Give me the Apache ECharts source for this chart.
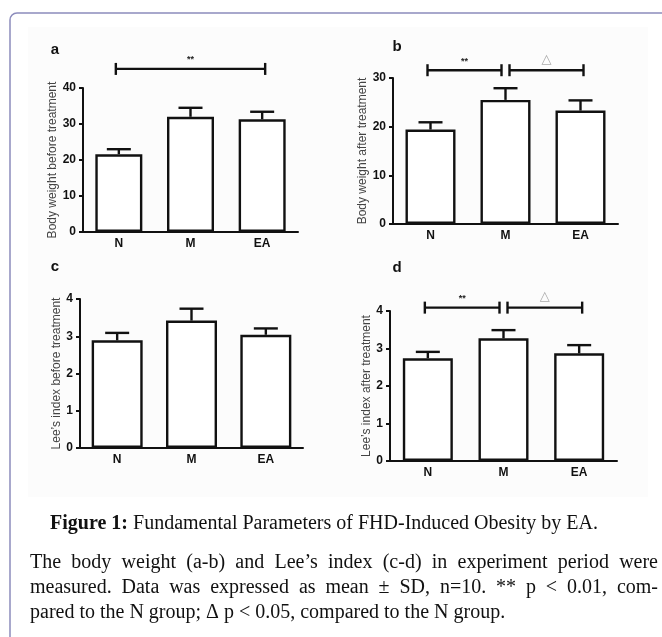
<!DOCTYPE html>
<html>
<head>
<meta charset="utf-8">
<script src="https://cdn.jsdelivr.net/npm/echarts@6/dist/echarts.min.js"></script>
<style>
html, body { margin: 0; background: #fff; }
#chart { width: 662px; height: 637px; }
</style>
</head>
<body>
<div id="chart"></div>
<script>
// groups and values (mean, SD)
const groups = ['N', 'M', 'EA'];
const weightBefore = [21.6, 32.0, 31.3];
const weightBeforeSd = [1.4, 2.5, 2.1];
const weightAfter = [19.4, 25.5, 23.3];
const weightAfterSd = [1.5, 2.4, 2.1];
const leeBefore = [2.89, 3.42, 3.04];
const leeBeforeSd = [0.20, 0.32, 0.17];
const leeAfter = [2.74, 3.27, 2.87];
const leeAfterSd = [0.17, 0.22, 0.22];

// y axis ticks: [max, interval]
const weightBeforeTicks = [40, 10];
const weightAfterTicks = [30, 10];
const leeTicks = [4, 1];

// significance brackets: [from group, to group, level], labels apart
const sigA = [[0, 2, 45.3]];
const sigALabels = ['**'];
const sigB = [[0, 1, 31.6], [1, 2, 31.6]];
const sigBLabels = ['**', '△'];
const sigD = [[0, 1, 4.09], [1, 2, 4.09]];
const sigDLabels = ['**', '△'];

const paraLines = [
    'The body weight (a-b) and Lee\u2019s index (c-d) in experiment period were',
    'measured. Data was expressed as mean \u00b1 SD, n=10. ** p < 0.01, com-',
    'pared to the N group; \u0394 p < 0.05, compared to the N group.'
];

var myChart = echarts.init(document.getElementById('chart'));

const ink = '#111';
const panels = [
    { grid: { left: 83, top: 88, width: 215, height: 144 }, name: 'Body weight before treatment', gap: 17,
      means: weightBefore, sds: weightBeforeSd, ticks: weightBeforeTicks, sig: sigA, sigLabels: sigALabels, barW: 47 },
    { grid: { left: 393, top: 78, width: 225, height: 146 }, name: 'Body weight after treatment', gap: 13,
      means: weightAfter, sds: weightAfterSd, ticks: weightAfterTicks, sig: sigB, sigLabels: sigBLabels, barW: 50 },
    { grid: { left: 80, top: 299, width: 223, height: 149 }, name: 'Lee\u2019s index before treatment', gap: 15,
      means: leeBefore, sds: leeBeforeSd, ticks: leeTicks, sig: [], sigLabels: [], barW: 51 },
    { grid: { left: 390, top: 311, width: 227, height: 150 }, name: 'Lee\u2019s index after treatment', gap: 11,
      means: leeAfter, sds: leeAfterSd, ticks: leeTicks, sig: sigD, sigLabels: sigDLabels, barW: 50 }
];

var grids = [], xAxes = [], yAxes = [], series = [];
panels.forEach(function (p, i) {
    grids.push(p.grid);
    xAxes.push({
        type: 'category', gridIndex: i, data: groups,
        axisLine: { lineStyle: { color: ink, width: 2 } },
        axisTick: { show: false },
        axisLabel: { color: ink, fontWeight: 'bold', fontSize: 12, fontFamily: 'Liberation Sans', margin: 6 }
    });
    yAxes.push({
        type: 'value', gridIndex: i, min: 0, max: p.ticks[0], interval: p.ticks[1],
        name: p.name, nameLocation: 'middle', nameGap: p.gap,
        nameTextStyle: { color: '#444', fontSize: 12, fontFamily: 'Liberation Sans' },
        axisLine: { show: true, lineStyle: { color: ink, width: 2 } },
        axisTick: { show: true, length: 4, lineStyle: { color: ink, width: 2 } },
        splitLine: { show: false },
        axisLabel: { color: ink, fontWeight: 'bold', fontSize: 12, fontFamily: 'Liberation Sans', margin: 7 }
    });
    // bars
    series.push({
        type: 'bar', xAxisIndex: i, yAxisIndex: i, data: p.means, barWidth: p.barW, silent: true,
        itemStyle: { color: '#fff', borderColor: ink, borderWidth: 2.4 }, z: 2
    });
    // error bars (upper only)
    series.push({
        type: 'custom', xAxisIndex: i, yAxisIndex: i, silent: true, z: 3,
        data: p.means.map(function (m, k) { return [k, m, p.sds[k]]; }),
        encode: { x: 0, y: 1 },
        renderItem: function (params, api) {
            var base = api.coord([api.value(0), api.value(1)]);
            var top = api.coord([api.value(0), api.value(1) + api.value(2)]);
            var st = { stroke: ink, lineWidth: 2.4 };
            return { type: 'group', children: [
                { type: 'line', shape: { x1: base[0], y1: base[1], x2: top[0], y2: top[1] }, style: st },
                { type: 'line', shape: { x1: top[0] - 12, y1: top[1], x2: top[0] + 12, y2: top[1] }, style: st }
            ] };
        }
    });
    // significance brackets
    if (p.sig.length) {
        series.push({
            type: 'custom', xAxisIndex: i, yAxisIndex: i, silent: true, z: 3, clip: false,
            data: p.sig,
            encode: { x: 0, y: 2 },
            renderItem: function (params, api) {
                var a = api.coord([api.value(0), api.value(2)]);
                var b = api.coord([api.value(1), api.value(2)]);
                var x1 = a[0] + (api.value(0) > 0 ? 4 : -3);
                var x2 = b[0] + (api.value(1) < groups.length - 1 ? -4 : 3);
                var y = a[1];
                var st = { stroke: ink, lineWidth: 2.4 };
                var lab = p.sigLabels[params.dataIndex];
                var star = lab === '**';
                return { type: 'group', children: [
                    { type: 'line', shape: { x1: x1, y1: y, x2: x2, y2: y }, style: st },
                    { type: 'line', shape: { x1: x1, y1: y - 6, x2: x1, y2: y + 6 }, style: st },
                    { type: 'line', shape: { x1: x2, y1: y - 6, x2: x2, y2: y + 6 }, style: st },
                    { type: 'text', x: (x1 + x2) / 2, y: y - (star ? 9 : 11), style: {
                        text: lab, fill: star ? '#222' : '#aaa', align: 'center', verticalAlign: 'middle',
                        font: star ? 'bold 9px "Liberation Sans"' : '13px "DejaVu Sans"' } }
                ] };
            }
        });
    }
});

// caption paragraph, justified like the page
var measure = document.createElement('canvas').getContext('2d');
var paraFont = '20px "Liberation Serif"';
measure.font = paraFont;
var paraLeft = 30, paraRight = 658, paraTop = 563, paraStep = 25;
var paraEls = [];
paraLines.forEach(function (line, li) {
    var y = paraTop + li * paraStep;
    if (li === paraLines.length - 1) {
        paraEls.push({ type: 'text', x: paraLeft, y: y, style: { text: line, font: paraFont, fill: '#111', verticalAlign: 'middle' } });
        return;
    }
    var words = line.split(' ');
    var total = 0;
    words.forEach(function (w) { total += measure.measureText(w).width; });
    var gap = (paraRight - paraLeft - total) / (words.length - 1);
    var x = paraLeft;
    words.forEach(function (w) {
        paraEls.push({ type: 'text', x: x, y: y, style: { text: w, font: paraFont, fill: '#111', verticalAlign: 'middle' } });
        x += measure.measureText(w).width + gap;
    });
});

var letterFont = 'bold 15px "Liberation Sans"';
var option = {
    animation: false,
    grid: grids,
    xAxis: xAxes,
    yAxis: yAxes,
    series: series,
    graphic: [
        { type: 'rect', z: -10, shape: { x: 10, y: 13, width: 720, height: 700, r: 7 },
          style: { fill: '#fff', stroke: '#8c8cbc', lineWidth: 1.5 } },
        { type: 'rect', z: -9, shape: { x: 28, y: 27, width: 620, height: 470 }, style: { fill: '#fcfcfc' } },
        { type: 'text', x: 55, y: 50, style: { text: 'a', font: letterFont, fill: ink, align: 'center', verticalAlign: 'middle' } },
        { type: 'text', x: 397, y: 47, style: { text: 'b', font: letterFont, fill: ink, align: 'center', verticalAlign: 'middle' } },
        { type: 'text', x: 55, y: 267, style: { text: 'c', font: letterFont, fill: ink, align: 'center', verticalAlign: 'middle' } },
        { type: 'text', x: 397, y: 268, style: { text: 'd', font: letterFont, fill: ink, align: 'center', verticalAlign: 'middle' } },
        { type: 'text', x: 324, y: 524, style: {
            text: '{b|Figure 1:} Fundamental Parameters of FHD-Induced Obesity by EA.',
            font: paraFont, fill: '#111', align: 'center', verticalAlign: 'middle',
            rich: { b: { fontWeight: 'bold', fontSize: 20, fontFamily: 'Liberation Serif' } } } }
    ].concat(paraEls)
};
myChart.setOption(option);
</script>
</body>
</html>
